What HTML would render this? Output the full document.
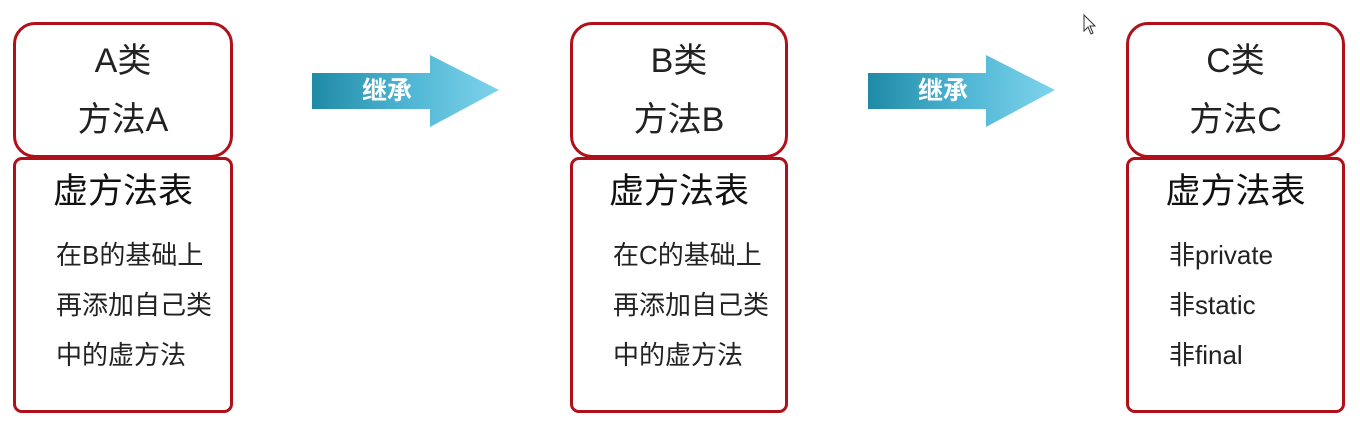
<!DOCTYPE html>
<html><head><meta charset="utf-8"><style>
*{margin:0;padding:0;box-sizing:border-box}
body{width:1360px;height:429px;background:#fff;position:relative;overflow:hidden;font-family:"Liberation Sans","Noto Sans CJK SC",sans-serif;color:#222}
.top,.bot{position:absolute;border:3px solid #b0101a}
.top{top:22px;height:136px;border-radius:22px}
.bot{top:157px;height:256px;border-radius:9px}
.t{position:absolute;width:100%;text-align:center;font-size:34px;line-height:38px}
.h{position:absolute;width:100%;text-align:center;font-size:35px;line-height:40px;top:12px;color:#111}
.l{position:absolute;font-size:26px;line-height:30px;left:40px;white-space:nowrap}
</style></head><body>

<div class="top" style="left:13px;width:220px"><div class="t" style="top:17px">A类</div><div class="t" style="top:76px">方法A</div></div>
<div class="bot" style="left:13px;width:220px"><div class="h">虚方法表</div>
<div class="l" style="top:80px">在B的基础上</div><div class="l" style="top:130px">再添加自己类</div><div class="l" style="top:180px">中的虚方法</div></div>

<div class="top" style="left:570px;width:218px"><div class="t" style="top:17px">B类</div><div class="t" style="top:76px">方法B</div></div>
<div class="bot" style="left:570px;width:218px"><div class="h">虚方法表</div>
<div class="l" style="top:80px">在C的基础上</div><div class="l" style="top:130px">再添加自己类</div><div class="l" style="top:180px">中的虚方法</div></div>

<div class="top" style="left:1126px;width:219px"><div class="t" style="top:17px">C类</div><div class="t" style="top:76px">方法C</div></div>
<div class="bot" style="left:1126px;width:219px"><div class="h">虚方法表</div>
<div class="l" style="top:80px">非private</div><div class="l" style="top:130px">非static</div><div class="l" style="top:180px">非final</div></div>

<svg width="1360" height="429" style="position:absolute;left:0;top:0">
<defs><linearGradient id="g" x1="0" x2="1" y1="0" y2="0"><stop offset="0" stop-color="#1f8aa6"/><stop offset="0.5" stop-color="#4db5d3"/><stop offset="1" stop-color="#7fd3ec"/></linearGradient></defs>
<g>
<path d="M312 73 H430 V55 L499 90 L430 127 V109 H312 Z" fill="url(#g)"/>
<text x="387" y="99" font-size="25" font-weight="bold" fill="#fff" text-anchor="middle" font-family="Liberation Sans,Noto Sans CJK SC,sans-serif">继承</text>
</g>
<g>
<path d="M868 73 H986 V55 L1055 90 L986 127 V109 H868 Z" fill="url(#g)"/>
<text x="943" y="99" font-size="25" font-weight="bold" fill="#fff" text-anchor="middle" font-family="Liberation Sans,Noto Sans CJK SC,sans-serif">继承</text>
</g>
<path d="M1084 15 V31 L1088 27 L1091 34 L1093 33 L1090 26 H1095 Z" fill="#fff" stroke="#333" stroke-width="1"/>
</svg>
</body></html>
